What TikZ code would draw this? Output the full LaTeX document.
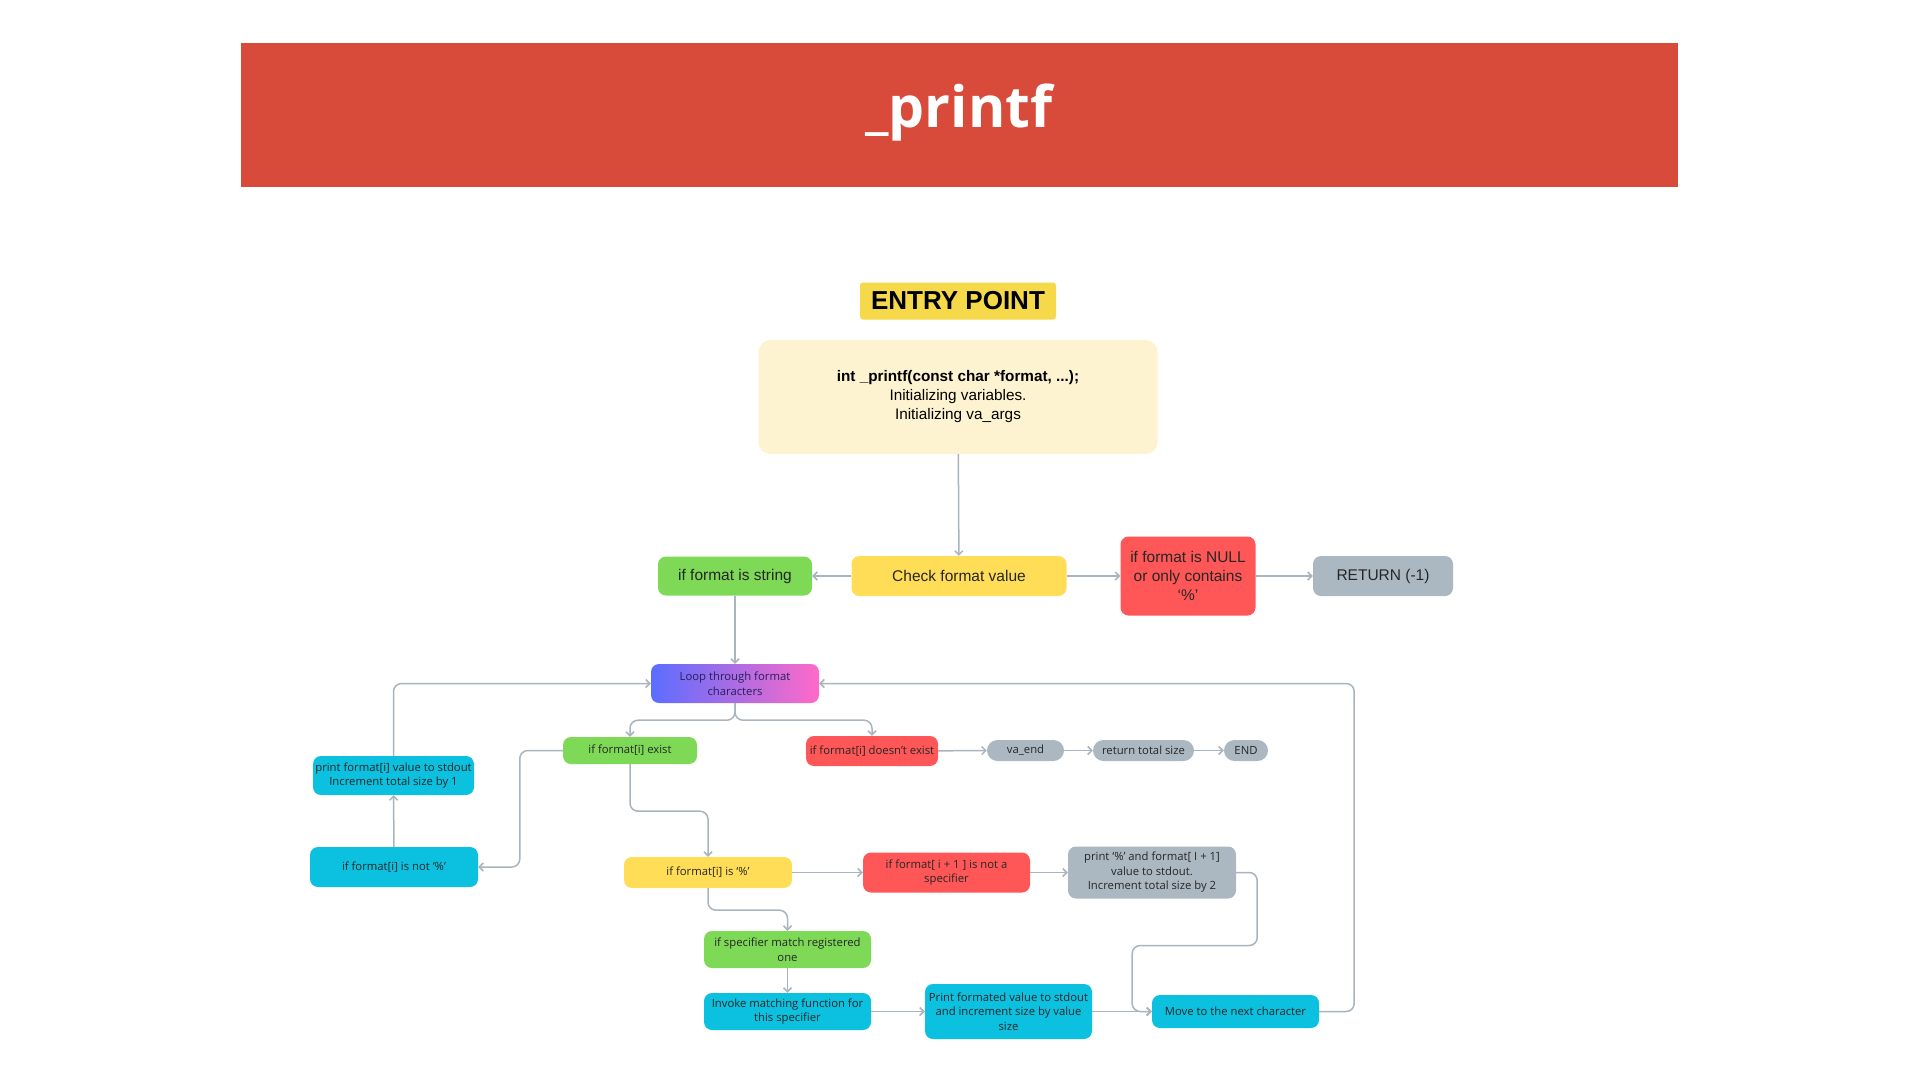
\documentclass[tikz,border=0pt]{standalone}
\usepackage{fontspec}
\setmainfont{Open Sans}
\newfontfamily\headfont{Liberation Sans}
\usetikzlibrary{arrows.meta}
\definecolor{banner}{HTML}{D84A3A}
\definecolor{entry}{HTML}{F5D94A}
\definecolor{cream}{HTML}{FEF3D0}
\definecolor{leaf}{HTML}{7ED957}
\definecolor{sun}{HTML}{FFDD57}
\definecolor{alert}{HTML}{FF5757}
\definecolor{slate}{HTML}{ACB8C1}
\definecolor{sky}{HTML}{0CC0DF}
\definecolor{wirec}{HTML}{A9B4BE}
\definecolor{loopblue}{HTML}{5B6EFF}
\definecolor{looppink}{HTML}{FF6AC8}
\definecolor{navy}{HTML}{25205A}
\begin{document}
\begin{tikzpicture}[x=1pt,y=-1pt,
  box/.style={rounded corners=8pt,inner sep=0pt,align=center,text=black!85,font=\fontsize{11.3}{14.5}\selectfont},
  rowbox/.style={box,font=\headfont\fontsize{15.5}{19}\selectfont},
  pill/.style={box,rounded corners=10.5pt,fill=slate,minimum height=21pt},
  wire/.style={draw=wirec,line width=1.5pt,rounded corners=8pt,-{Straight Barb[length=4pt,width=8pt]}}]
\fill[white] (0,0) rectangle (1920,1080);
\fill[banner] (241,43) rectangle (1678,187);
\node[text=white,font=\bfseries\fontsize{57}{60}\selectfont] (title) at (959,113) {\_printf};
\node[fill=entry,rounded corners=3pt,minimum width=196pt,minimum height=37pt,font=\headfont\bfseries\fontsize{26}{28}\selectfont] (entry) at (958,301) {ENTRY POINT};
\node[fill=cream,rounded corners=12pt,minimum width=399pt,minimum height=114pt,align=center,font=\headfont\fontsize{15.3}{19}\selectfont] (proto) at (958,397) {\textbf{int \_printf(const char *format, ...);}\\Initializing variables.\\Initializing va\_args};
\node[rowbox,fill=leaf,minimum width=154pt,minimum height=39pt] (isstr) at (735,576) {if format is string};
\node[rowbox,fill=sun,minimum width=215pt,minimum height=40pt] (check) at (959,576) {Check format value};
\node[rowbox,fill=alert,minimum width=135pt,minimum height=79pt] (isnull) at (1188,576) {if format is NULL\\or only contains\\‘\%’};
\node[rowbox,fill=slate,minimum width=140pt,minimum height=40pt] (ret) at (1383,576) {RETURN (-1)};
\node[box,left color=loopblue,right color=looppink,minimum width=168pt,minimum height=39pt,text=navy] (loop) at (735,683.5) {Loop through format\\characters};
\node[box,fill=leaf,minimum width=134pt,minimum height=27pt] (exist) at (630,750.5) {if format[i] exist};
\node[box,fill=alert,minimum width=132pt,minimum height=30pt] (noexist) at (872,751) {if format[i] doesn’t exist};
\node[pill,minimum width=77pt] (vaend) at (1025.5,750.5) {va\_end};
\node[pill,minimum width=101pt] (total) at (1143.5,750.5) {return total size};
\node[pill,minimum width=44pt] (fin) at (1246,750.5) {END};
\node[box,fill=sky,minimum width=161pt,minimum height=39pt] (putc) at (393.5,775.5) {print format[i] value to stdout\\Increment total size by 1};
\node[box,fill=sky,minimum width=168pt,minimum height=40pt] (notpct) at (394,867) {if format[i] is not ‘\%’};
\node[box,fill=sun,minimum width=168pt,minimum height=31pt] (ispct) at (708,872.5) {if format[i] is ‘\%’};
\node[box,fill=alert,minimum width=167pt,minimum height=40pt] (nospec) at (946.5,872.5) {if format[ i + 1 ] is not a\\specifier};
\node[box,fill=slate,minimum width=168pt,minimum height=52pt] (both) at (1152,872.5) {print ‘\%’ and format[ I + 1]\\value to stdout.\\Increment total size by 2};
\node[box,fill=leaf,minimum width=167pt,minimum height=37pt] (match) at (787.5,949.5) {if specifier match registered\\one};
\node[box,fill=sky,minimum width=167pt,minimum height=37pt] (invoke) at (787.5,1011.5) {Invoke matching function for\\this specifier};
\node[box,fill=sky,minimum width=167pt,minimum height=55pt] (outval) at (1008.5,1011.5) {Print formated value to stdout\\and increment size by value\\size};
\node[box,fill=sky,minimum width=167pt,minimum height=33pt] (nextc) at (1235.5,1011.5) {Move to the next character};
\draw[wire] (proto) -- (check);
\draw[wire] (check) -- (isstr);
\draw[wire] (check) -- (isnull);
\draw[wire] (isnull) -- (ret);
\draw[wire] (isstr) -- (loop);
\draw[wire] (loop.south) -- ++(0,17) -| (exist.north);
\draw[wire] (loop.south) -- ++(0,17) -| (noexist.north);
\draw[wire] (noexist) -- (vaend);
\draw[wire] (vaend) -- (total);
\draw[wire] (total) -- (fin);
\draw[wire] (exist.west) -- ++(-43,0) |- (notpct.east);
\draw[wire] (notpct) -- (putc);
\draw[wire] (putc.north) |- (loop.west);
\draw[wire] (exist.south) -- ++(0,47) -| (ispct.north);
\draw[wire] (ispct) -- (nospec);
\draw[wire] (nospec) -- (both);
\draw[wire] (ispct.south) -- ++(0,22) -| (match.north);
\draw[wire] (match) -- (invoke);
\draw[wire] (invoke) -- (outval);
\draw[wire] (outval) -- (nextc);
\draw[wire] (both.east) -- ++(21,0) -- ++(0,73) -- ++(-125,0) |- (nextc.west);
\draw[wire] (nextc.east) -- ++(35,0) |- (loop.east);
\end{tikzpicture}
\end{document}
